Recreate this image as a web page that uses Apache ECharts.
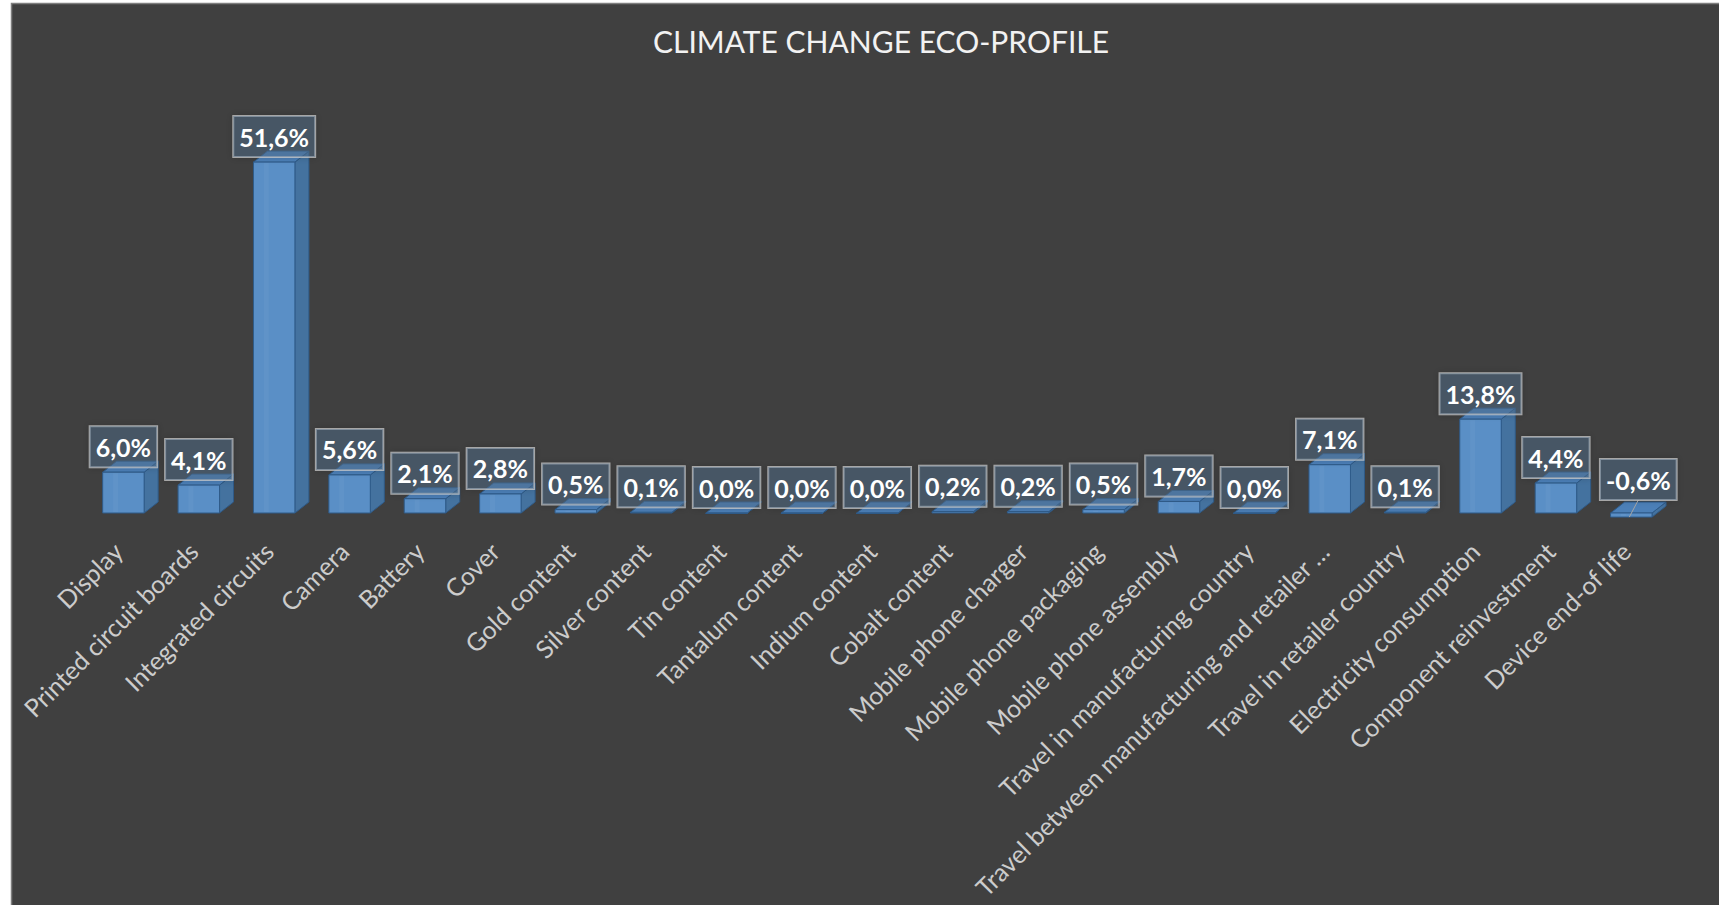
<!DOCTYPE html>
<html>
<head>
<meta charset="utf-8">
<script src="https://cdn.jsdelivr.net/npm/echarts@6/dist/echarts.min.js"></script>
<style>
html,body{margin:0;padding:0;background:#ffffff;}
#chart{width:1719px;height:905px;}
</style>
</head>
<body>
<div id="chart"></div>
<script>
const chartTitle = 'CLIMATE CHANGE ECO-PROFILE';
const categories = [
  'Display', 'Printed circuit boards', 'Integrated circuits', 'Camera', 'Battery', 'Cover',
  'Gold content', 'Silver content', 'Tin content', 'Tantalum content', 'Indium content',
  'Cobalt content', 'Mobile phone charger', 'Mobile phone packaging', 'Mobile phone assembly',
  'Travel in manufacturing country', 'Travel between manufacturing and retailer …',
  'Travel in retailer country', 'Electricity consumption', 'Component reinvestment', 'Device end-of life'
];
const values = [6.0, 4.1, 51.6, 5.6, 2.1, 2.8, 0.5, 0.1, 0.0, 0.0, 0.0, 0.2, 0.2, 0.5, 1.7, 0.0, 7.1, 0.1, 13.8, 4.4, -0.6];

function fmt(v) { return v.toFixed(1).replace('.', ',') + '%'; }

const chart = echarts.init(document.getElementById('chart'), null, {renderer: 'svg'});

const DX = 14, DY = 11;

function renderItem(params, api) {
  const idx = api.value(0);
  const val = api.value(1);
  const base = api.coord([idx, 0]);
  const tip = api.coord([idx, val]);
  const bw = api.size([1, 0])[0] * 0.55;
  const x0 = base[0] - bw / 2;
  const yTop = Math.min(base[1], tip[1]);
  const yBot = Math.max(base[1], tip[1]);
  const edge = '#2f5b89';
  const children = [
    {
      type: 'polygon',
      shape: {points: [[x0 + bw, yTop], [x0 + bw + DX, yTop - DY], [x0 + bw + DX, yBot - DY], [x0 + bw, yBot]]},
      style: {fill: '#44729f', stroke: edge, lineWidth: 1}
    },
    {
      type: 'polygon',
      shape: {points: [[x0, yTop], [x0 + DX, yTop - DY], [x0 + bw + DX, yTop - DY], [x0 + bw, yTop]]},
      style: {fill: '#4c80b8', stroke: edge, lineWidth: 1}
    },
    {
      type: 'rect',
      shape: {x: x0, y: yTop, width: bw, height: Math.max(yBot - yTop, 0.5)},
      style: {fill: '#5a8fc6', stroke: edge, lineWidth: 1}
    },
    {
      type: 'rect',
      shape: {x: x0 + bw * 0.25, y: yTop + 1, width: bw * 0.12, height: Math.max(yBot - yTop - 2, 0)},
      style: {fill: 'rgba(255,255,255,0.04)'}
    }
  ];
  let labelX = base[0];
  let labelY;
  if (val >= 0) {
    labelY = tip[1] - 5;
  } else {
    labelX = base[0] + 7;
    labelY = base[1] - 13;
    children.push({
      type: 'line',
      shape: {x1: labelX, y1: labelY, x2: base[0] - 2, y2: yBot},
      style: {stroke: '#a6a6a6', lineWidth: 1},
      z2: 20
    });
  }
  children.push({
    type: 'text',
    x: labelX,
    y: labelY,
    z2: 30,
    style: {
      text: fmt(val),
      fill: '#ffffff',
      fontFamily: 'Lato',
      fontWeight: 'bold',
      fontSize: 25,
      lineHeight: 25,
      align: 'center',
      verticalAlign: 'bottom',
      backgroundColor: 'rgba(82,112,145,0.45)',
      borderColor: 'rgba(200,200,200,0.75)',
      borderWidth: 1,
      padding: [8, 6, 8, 6],
      shadowBlur: 6,
      shadowColor: 'rgba(0,0,0,0.25)'
    }
  });
  return {type: 'group', children: children};
}

const option = {
  backgroundColor: '#ffffff',
  animation: false,
  title: {
    text: chartTitle,
    left: 876,
    top: 21,
    textAlign: 'center',
    textStyle: {fontFamily: 'Lato', fontSize: 30, fontWeight: 'normal', color: '#f2f2f2'}
  },
  graphic: [
    {
      type: 'rect',
      z: -10,
      silent: true,
      shape: {x: 11.5, y: 3.5, width: 1720, height: 910},
      style: {fill: '#404040', stroke: '#7f7f7f', lineWidth: 1.5}
    }
  ],
  grid: {left: 85.7, right: 50, top: 139, bottom: 358, containLabel: false},
  xAxis: {
    type: 'category',
    data: categories,
    axisLine: {show: false, onZero: true},
    axisTick: {show: false},
    splitLine: {show: false},
    axisLabel: {
      interval: 0,
      rotate: 45,
      margin: -6,
      padding: [0, 8, 0, 0],
      color: '#cccccc',
      fontFamily: 'Lato',
      fontSize: 25
    }
  },
  yAxis: {
    type: 'value',
    min: -5,
    max: 55,
    interval: 5,
    show: false
  },
  series: [
    {
      type: 'custom',
      renderItem: renderItem,
      data: values.map((v, i) => [i, v]),
      encode: {x: 0, y: 1},
      clip: false
    }
  ]
};
chart.setOption(option);
</script>
</body>
</html>
